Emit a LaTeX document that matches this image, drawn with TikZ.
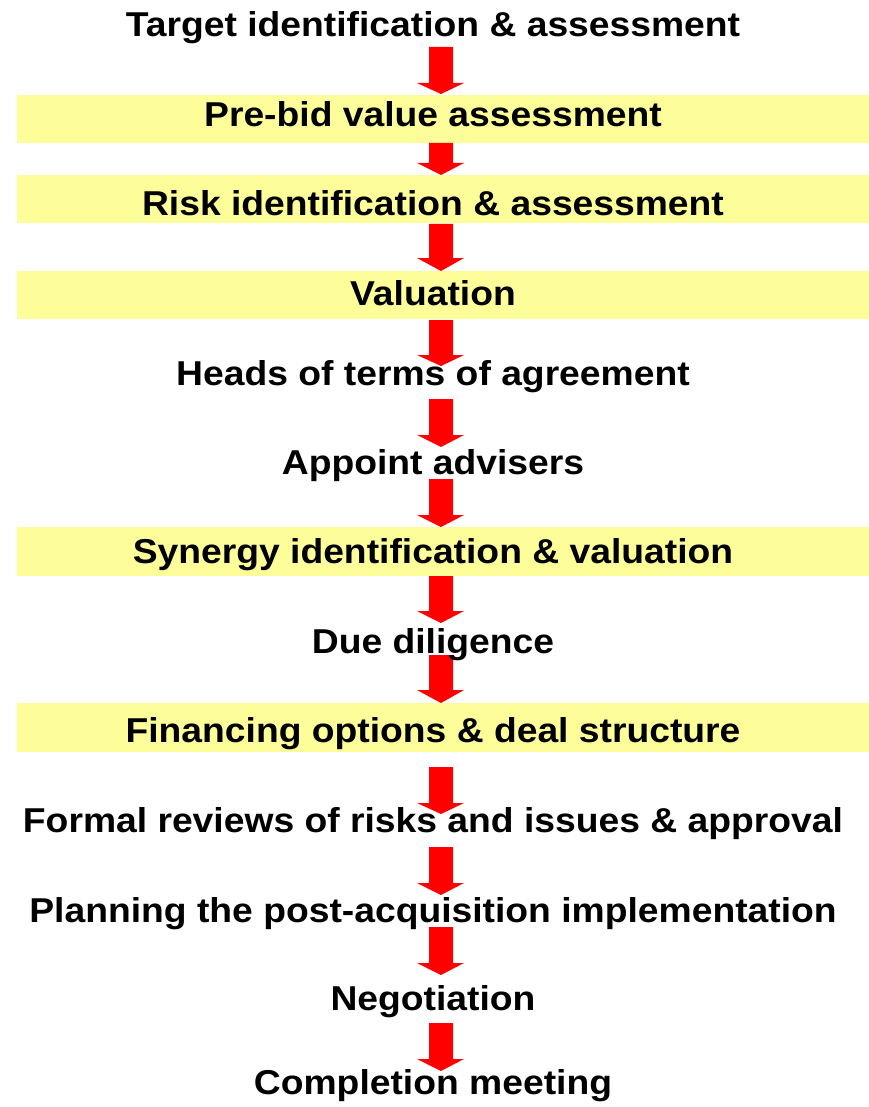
\documentclass[tikz,border=0pt]{standalone}
\usepackage{fontspec}
\setmainfont{Liberation Sans}[FakeStretch=1.08]
\usepackage{tikz}

\definecolor{bandyellow}{RGB}{253,253,153}
\definecolor{arrowred}{RGB}{255,0,0}

\tikzset{
  steptext/.style={anchor=base, inner sep=0.75pt, font=\fontsize{34.5}{40}\selectfont\bfseries},
  band/.style={fill=bandyellow, draw=none},
  blockarrow/.style={fill=arrowred, draw=none}
}

% block arrow: #1 = top of shaft, #2 = start of head, #3 = tip
\newcommand{\flowarrow}[3]{%
  \fill[blockarrow] (429,#1) -- (453,#1) -- (453,#2) -- (464,#2) -- (441,#3) -- (417,#2) -- (429,#2) -- cycle;}

\begin{document}
\begin{tikzpicture}[x=1pt,y=1pt,yscale=-1,xscale=1]
        \useasboundingbox (0,0) rectangle (869,1107);

        %Shape: Rectangle [bands behind the text]
        \path[band] (17,95) rectangle (869,143);
        \path[band] (17,175) rectangle (869,223);
        \path[band] (17,271) rectangle (869,319);
        \path[band] (17,527) rectangle (869,576);
        \path[band] (17,703) rectangle (869,752);

        %Shape: Arrows
        \flowarrow{47}{83}{94}
        \flowarrow{143}{163}{175}
        \flowarrow{224}{258}{271}
        \flowarrow{320}{355}{366}
        \flowarrow{399}{435}{447}
        \flowarrow{479}{515}{527}
        \flowarrow{576}{611}{623}
        \flowarrow{655}{690}{703}
        \flowarrow{767}{803}{814}
        \flowarrow{847}{883}{895}
        \flowarrow{927}{963}{975}
        \flowarrow{1023}{1059}{1071}

        % Text Node
        \node[steptext] (target) at (433,37) {Target identification \& assessment};
        % Text Node
        \node[steptext] (prebid) at (433,127) {Pre-bid value assessment};
        % Text Node
        \node[steptext] (risk) at (433,215) {Risk identification \& assessment};
        % Text Node
        \node[steptext] (valuation) at (433,305) {Valuation};
        % Text Node
        \node[steptext] (heads) at (433,385) {Heads of terms of agreement};
        % Text Node
        \node[steptext] (advisers) at (433,474) {Appoint advisers};
        % Text Node
        \node[steptext] (synergy) at (433,563) {Synergy identification \& valuation};
        % Text Node
        \node[steptext] (diligence) at (433,653) {Due diligence};
        % Text Node
        \node[steptext] (financing) at (433,742) {Financing options \& deal structure};
        % Text Node
        \node[steptext] (reviews) at (433,832) {Formal reviews of risks and issues \& approval};
        % Text Node
        \node[steptext] (planning) at (433,922) {Planning the post-acquisition implementation};
        % Text Node
        \node[steptext] (negotiation) at (433,1010) {Negotiation};
        % Text Node
        \node[steptext] (completion) at (433,1094) {Completion meeting};

\end{tikzpicture}
\end{document}
